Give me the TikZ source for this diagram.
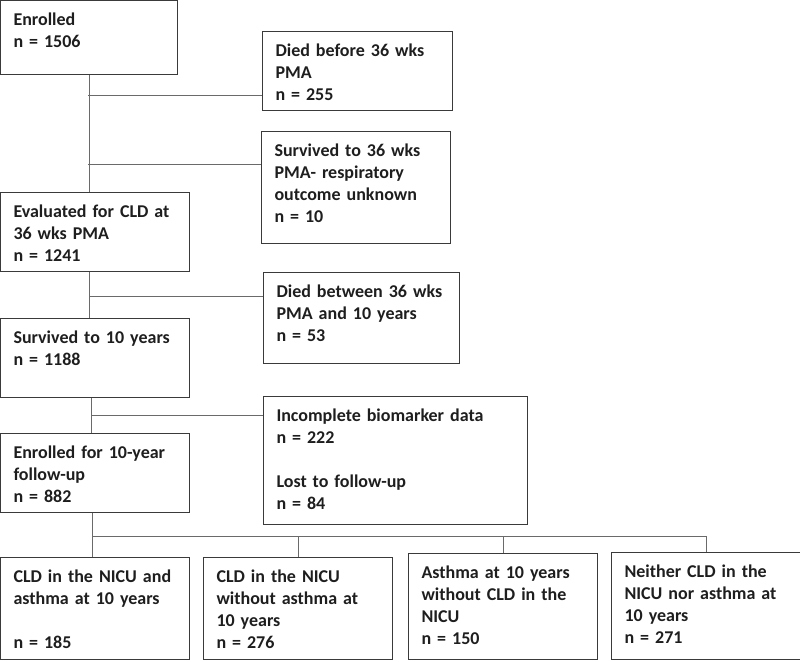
\documentclass[tikz,border=0pt]{standalone}
\usepackage{fontspec}
\setmainfont{Carlito}
\usetikzlibrary{positioning,calc}
\definecolor{boxline}{HTML}{3A3A3A}
\definecolor{linkline}{HTML}{6A6A6A}
\definecolor{boxtext}{HTML}{1E1E1E}

\begin{document}
\begin{tikzpicture}[
  x=1pt, y=-1pt,
  box/.style={draw=boxline, line width=1pt, anchor=north west, inner xsep=13pt, inner ysep=0pt, align=left, text height=25pt, text=boxtext, font=\fontsize{18}{22}\selectfont\bfseries},
  link/.style={draw=linkline, line width=0.9pt}
]
\useasboundingbox (0,0) rectangle (800,661);
\node[box, text width=151pt, text depth=49pt] (enr) at (0,0) {Enrolled\\n = 1506};
\node[box, text width=164pt, text depth=54pt] (died36) at (262,31) {Died before 36 wks\\PMA\\n = 255};
\node[box, text width=163pt, text depth=87pt] (surv36) at (261,131) {Survived to 36 wks\\PMA- respiratory\\outcome unknown\\n = 10};
\node[box, text width=163pt, text depth=54pt] (eval) at (0,192) {Evaluated for CLD at\\36 wks PMA\\n = 1241};
\node[box, text width=170pt, text depth=66pt] (died10) at (263,272) {Died between 36 wks\\PMA and 10 years\\n = 53};
\node[box, text width=163pt, text depth=54pt] (surv10) at (0,318) {Survived to 10 years\\n = 1188};
\node[box, text width=238pt, text depth=103pt] (excl) at (263,396) {Incomplete biomarker data\\n = 222\\[22pt]Lost to follow-up\\n = 84};
\node[box, text width=163pt, text depth=54pt] (enr10) at (0,433) {Enrolled for 10-year\\follow-up\\n = 882};
\node[box, text width=163pt, text depth=77pt] (cldasth) at (0,557) {CLD in the NICU and\\asthma at 10 years\\[22pt]n = 185};
\node[box, text width=163pt, text depth=77pt] (cldonly) at (203,557) {CLD in the NICU\\without asthma at\\10 years\\n = 276};
\node[box, text width=163pt, text depth=81pt] (asthonly) at (408,553) {Asthma at 10 years\\without CLD in the\\NICU\\n = 150};
\node[box, text width=163pt, text depth=82pt] (neither) at (611,552) {Neither CLD in the\\NICU nor asthma at\\10 years\\n = 271};
\coordinate (j1) at (88,95);
\coordinate (j2) at (88,164);
\coordinate (j3) at (89,296);
\coordinate (j4) at (91,415);
\coordinate (j5) at (92,536);
\draw[link] (enr.south) -- (enr.south |- eval.north);
\draw[link] (j1) -- (j1 -| died36.west);
\draw[link] (j2) -- (j2 -| surv36.west);
\draw[link] (j3 |- eval.south) -- (j3 |- surv10.north);
\draw[link] (j3) -- (j3 -| died10.west);
\draw[link] (j4 |- surv10.south) -- (j4 |- enr10.north);
\draw[link] (j4) -- (j4 -| excl.west);
\draw[link] (j5 |- enr10.south) -- (j5 |- cldasth.north);
\draw[link] (j5) -- (j5 -| neither.north);
\draw[link] (j5 -| cldonly.north) -- (cldonly.north);
\draw[link] (j5 -| asthonly.north) -- (asthonly.north);
\draw[link] (j5 -| neither.north) -- (neither.north);
\end{tikzpicture}
\end{document}
